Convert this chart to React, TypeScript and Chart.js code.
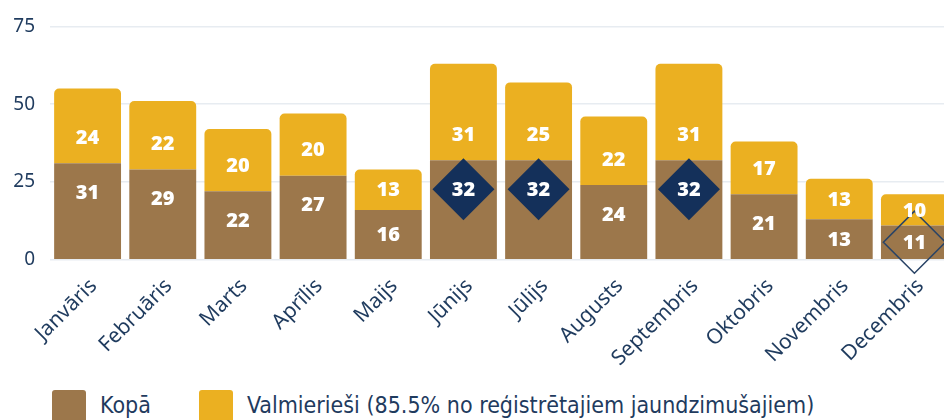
import React, { useEffect, useRef } from "react";
import { Chart, registerables } from "chart.js";

Chart.register(...registerables);

const months = ["Janvāris", "Februāris", "Marts", "Aprīlis", "Maijs", "Jūnijs", "Jūlijs", "Augusts", "Septembris", "Oktobris", "Novembris", "Decembris"];
const kopa = [31, 29, 22, 27, 16, 32, 32, 24, 32, 21, 13, 11];
const valmierieshi = [24, 22, 20, 20, 13, 31, 25, 22, 31, 17, 13, 10];
// marker per month: "max" = filled diamond, "min" = outlined diamond
const markers = ["", "", "", "", "", "max", "max", "", "max", "", "", "min"];
const yTicks = [0, 25, 50, 75];
const legendLabels = ["Kopā", "Valmierieši (85.5% no reģistrētajiem jaundzimušajiem)"];

const BROWN = "#9c774b";
const YELLOW = "#ebb021";
const NAVY = "#14305a";
const TEXT = "#1f3b5e";

const labelPlugin = {
  id: "segLabels",
  afterDatasetsDraw(chart: any) {
    const ctx = chart.ctx;
    const m0 = chart.getDatasetMeta(0);
    const m1 = chart.getDatasetMeta(1);
    ctx.save();
    ctx.textAlign = "center";
    ctx.textBaseline = "middle";
    ctx.font = "800 20px 'Open Sans'";
    m0.data.forEach((bar: any, i: number) => {
      const b0 = bar.base;
      const t0 = bar.y;
      const top1 = m1.data[i].y;
      const c0 = (b0 + t0) / 2;
      const y0 = Math.min(c0, t0 + 29);
      const c1 = (t0 + top1) / 2;
      const y1 = Math.max(c1, t0 - 26);
      const x = bar.x;
      const mk = markers[i];
      if (mk) {
        const r = 31;
        ctx.beginPath();
        ctx.moveTo(x, y0 - r);
        ctx.lineTo(x + r, y0);
        ctx.lineTo(x, y0 + r);
        ctx.lineTo(x - r, y0);
        ctx.closePath();
        if (mk === "max") {
          ctx.fillStyle = NAVY;
          ctx.fill();
        } else {
          ctx.strokeStyle = "#2a4466";
          ctx.lineWidth = 1.6;
          ctx.stroke();
        }
      }
      ctx.fillStyle = "#ffffff";
      ctx.fillText(String(kopa[i]), x, y0 + 1);
      ctx.fillText(String(valmierieshi[i]), x, y1 + 1);
    });
    ctx.restore();
  },
};

export default function App() {
  const ref = useRef<HTMLCanvasElement | null>(null);
  useEffect(() => {
    if (!ref.current) return;
    const chart = new Chart(ref.current, {
      type: "bar",
      data: {
        labels: months,
        datasets: [
          {
            label: legendLabels[0],
            data: kopa,
            backgroundColor: BROWN,
            borderWidth: 0,
            barPercentage: 0.89,
            categoryPercentage: 1,
          },
          {
            label: legendLabels[1],
            data: valmierieshi,
            backgroundColor: YELLOW,
            borderWidth: 0,
            borderRadius: 5,
            borderSkipped: "start",
            barPercentage: 0.89,
            categoryPercentage: 1,
          },
        ],
      },
      options: {
        animation: false,
        responsive: false,
        maintainAspectRatio: false,
        layout: { padding: { left: 0, right: 8, top: 14, bottom: 0 } },
        plugins: {
          legend: { display: false },
          tooltip: { enabled: false },
        },
        scales: {
          x: {
            stacked: true,
            grid: { display: false },
            border: { display: false },
            afterFit: (scale: any) => {
              scale.paddingLeft = 0;
              scale.paddingRight = 0;
            },
            ticks: {
              color: TEXT,
              font: { family: "'Noto Sans'", size: 21 },
              maxRotation: 45,
              minRotation: 45,
              padding: 6,
              labelOffset: 6,
              autoSkip: false,
            },
          },
          y: {
            stacked: true,
            min: 0,
            max: 75,
            afterBuildTicks: (axis: any) => {
              axis.ticks = yTicks.map((v) => ({ value: v }));
            },
            afterFit: (scale: any) => {
              scale.width = 50;
            },
            grid: { color: "#e7ecf1", drawTicks: false, lineWidth: 1.5 },
            border: { display: false },
            ticks: {
              color: TEXT,
              font: { family: "'Noto Sans'", size: 19 },
              padding: 15,
            },
          },
        },
      },
      plugins: [labelPlugin],
    });
    return () => chart.destroy();
  }, []);

  const box = (color: string) => ({
    display: "inline-block",
    width: 34,
    height: 34,
    background: color,
    borderRadius: 3,
    verticalAlign: "top",
  });
  const txt = {
    display: "inline-block",
    marginLeft: 14,
    fontFamily: "'Liberation Sans Narrow', 'DejaVu Sans Condensed', sans-serif",
    fontSize: 23,
    color: TEXT,
    lineHeight: "34px",
    verticalAlign: "top",
    marginTop: -2,
  } as React.CSSProperties;

  return (
    <div style={{ position: "fixed", left: 0, top: 0, width: 944, height: 420, overflow: "hidden", background: "#fff" }}>
      <canvas ref={ref} width={960} height={377} style={{ position: "absolute", left: 0, top: 0 }} />
      <div style={{ position: "absolute", left: 52, top: 390, whiteSpace: "nowrap" }}>
        <span style={box(BROWN)} />
        <span style={txt}>{legendLabels[0]}</span>
        <span style={{ ...box(YELLOW), marginLeft: 48 }} />
        <span style={txt}>{legendLabels[1]}</span>
      </div>
    </div>
  );
}
